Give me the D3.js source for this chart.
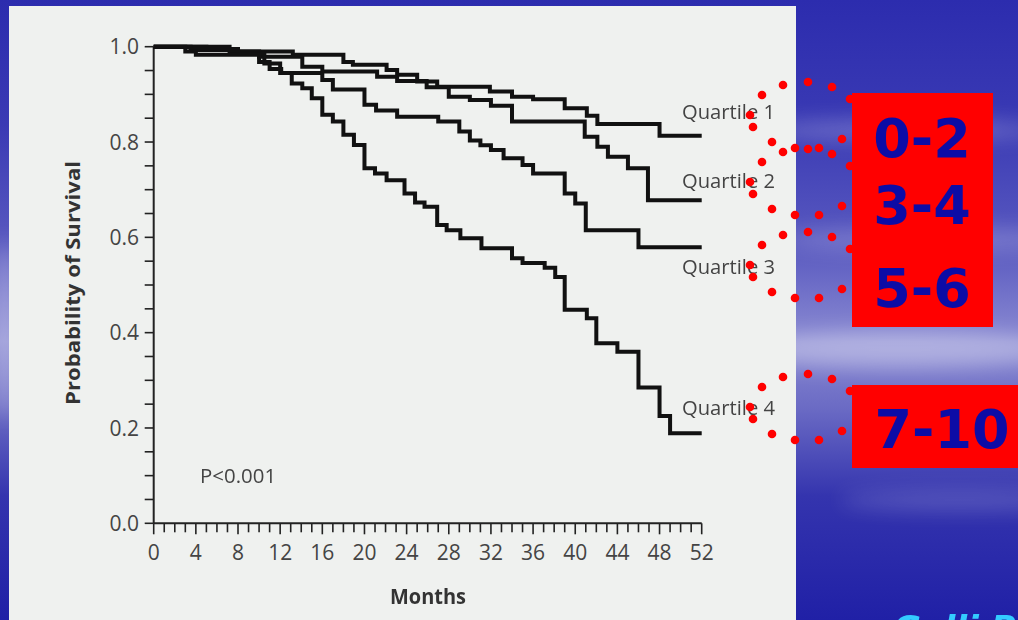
<!DOCTYPE html>
<html>
<head>
<meta charset="utf-8">
<script src="https://cdn.jsdelivr.net/npm/d3@7"></script>
<style>
  body { margin: 0; background: #2a2aa8; overflow: hidden; }
</style>
</head>
<body>
<div id="vis"></div>
<script>
// Kaplan-Meier steps (month, survival)
const monthsQ1 = [0, 7.2, 13.2, 18, 18.9, 22.1, 23.1, 25, 26.9, 31.9, 34, 36, 39, 41.1, 42.1, 48, 52];
const survQ1   = [1, 0.99, 0.983, 0.968, 0.962, 0.951, 0.941, 0.927, 0.916, 0.906, 0.895, 0.89, 0.871, 0.855, 0.838, 0.813, 0.813];

const monthsQ2 = [0, 5, 8, 10, 14.1, 16, 21.2, 23.1, 25.9, 28, 30, 32, 34, 40.9, 42.1, 43.1, 45, 46.9, 52];
const survQ2   = [1, 0.995, 0.99, 0.979, 0.958, 0.948, 0.937, 0.928, 0.915, 0.895, 0.888, 0.876, 0.843, 0.811, 0.79, 0.769, 0.745, 0.678, 0.678];

const monthsQ3 = [0, 3.5, 8, 10.5, 12, 16, 17, 20, 21.1, 23.1, 27, 29, 30, 31, 32, 33.2, 35, 36, 39, 40, 41, 46, 52];
const survQ3   = [1, 0.993, 0.985, 0.965, 0.945, 0.93, 0.91, 0.878, 0.866, 0.853, 0.843, 0.822, 0.803, 0.793, 0.783, 0.766, 0.752, 0.734, 0.692, 0.671, 0.615, 0.579, 0.579];

const monthsQ4 = [0, 3, 4, 10, 11, 12.1, 13.1, 14.1, 15, 16, 17, 18, 19, 20, 21, 22.1, 23.8, 24.8, 25.7, 26.9, 27.8, 29.1, 31.1, 34, 35, 37.1, 38.1, 39, 41.1, 42, 44, 46, 48, 49, 52];
const survQ4   = [1, 0.99, 0.983, 0.968, 0.953, 0.945, 0.923, 0.913, 0.892, 0.857, 0.843, 0.815, 0.794, 0.745, 0.734, 0.72, 0.692, 0.673, 0.664, 0.626, 0.615, 0.598, 0.577, 0.556, 0.546, 0.536, 0.517, 0.448, 0.43, 0.378, 0.36, 0.285, 0.225, 0.189, 0.189];

const quartileNames = ["Quartile 1", "Quartile 2", "Quartile 3", "Quartile 4"];
const quartileLabelY = [0.863, 0.718, 0.538, 0.242];
const scoreGroups = ["0-2", "3-4", "5-6", "7-10"];

const xMajorTicks = d3.range(0, 53, 4);
const xMinorTicks = d3.range(0, 53, 1);
const yMajorTicks = [0, 0.2, 0.4, 0.6, 0.8, 1.0];
const yMinorTicks = d3.range(0, 1.001, 0.05);

const WIDTH = 1018;
const HEIGHT = 620;

const svg = d3.select("#vis")
  .append("svg")
  .attr("width", WIDTH)
  .attr("height", HEIGHT);

////////// slide background //////////
const defs = svg.append("defs");
const bg = defs.append("linearGradient")
  .attr("id", "bgGrad")
  .attr("x1", 0).attr("y1", 0).attr("x2", 0).attr("y2", 1);
[[0, "#2c2cae"], [0.2, "#3a3ab4"], [0.4, "#5a5ac0"], [0.55, "#8a8ad2"], [0.66, "#6a6ac4"], [0.8, "#3434ae"], [1, "#2020a6"]]
  .forEach(s => bg.append("stop").attr("offset", s[0]).attr("stop-color", s[1]));

defs.append("filter").attr("id", "blur")
  .append("feGaussianBlur").attr("stdDeviation", 10);

svg.append("rect")
  .attr("width", WIDTH).attr("height", HEIGHT)
  .attr("fill", "url(#bgGrad)");

// soft light streaks
const streaks = [[900, 130, 140, 10, 0.25], [930, 240, 150, 12, 0.2], [900, 350, 160, 18, 0.35], [960, 500, 120, 10, 0.18], [5, 330, 12, 90, 0.3]];
svg.append("g").attr("filter", "url(#blur)")
  .selectAll("ellipse")
  .data(streaks)
  .join("ellipse")
  .attr("cx", d => d[0]).attr("cy", d => d[1])
  .attr("rx", d => d[2]).attr("ry", d => d[3])
  .attr("fill", "#ffffff")
  .attr("opacity", d => d[4]);

// chart panel
svg.append("rect")
  .attr("x", 9).attr("y", 6)
  .attr("width", 787).attr("height", HEIGHT - 6)
  .attr("fill", "#eff1ef");

////////// chart //////////
const x = d3.scaleLinear().domain([0, 52]).range([153.7, 701.7]);
const y = d3.scaleLinear().domain([0, 1]).range([523.3, 46.7]);

const chart = svg.append("g").attr("id", "chart");

// y axis
chart.append("line")
  .attr("x1", x(0)).attr("x2", x(0))
  .attr("y1", y(1)).attr("y2", y(0))
  .attr("stroke", "#222").attr("stroke-width", 2);

chart.selectAll(".yMinor")
  .data(yMinorTicks)
  .join("line")
  .attr("class", "yMinor")
  .attr("x1", x(0) - 9).attr("x2", x(0))
  .attr("y1", d => y(d)).attr("y2", d => y(d))
  .attr("stroke", "#222").attr("stroke-width", 1.6);

chart.selectAll(".yLabel")
  .data(yMajorTicks)
  .join("text")
  .attr("class", "yLabel")
  .attr("x", 139)
  .attr("y", d => y(d))
  .attr("dy", "0.36em")
  .attr("text-anchor", "end")
  .attr("font-family", "'Open Sans', sans-serif")
  .attr("font-size", 21)
  .attr("fill", "#444")
  .text(d => d.toFixed(1));

// x axis
chart.append("line")
  .attr("x1", x(0)).attr("x2", x(52))
  .attr("y1", y(0)).attr("y2", y(0))
  .attr("stroke", "#222").attr("stroke-width", 2);

chart.selectAll(".xMinor")
  .data(xMinorTicks)
  .join("line")
  .attr("class", "xMinor")
  .attr("x1", d => x(d)).attr("x2", d => x(d))
  .attr("y1", y(0)).attr("y2", d => y(0) + (d % 4 === 0 ? 11 : 9))
  .attr("stroke", "#222").attr("stroke-width", 1.6);

chart.selectAll(".xLabel")
  .data(xMajorTicks)
  .join("text")
  .attr("class", "xLabel")
  .attr("x", d => x(d))
  .attr("y", 560)
  .attr("text-anchor", "middle")
  .attr("font-family", "'Open Sans', sans-serif")
  .attr("font-size", 21)
  .attr("fill", "#444")
  .text(d => d);

// axis titles
chart.append("text")
  .attr("transform", "translate(80,283) rotate(-90)")
  .attr("text-anchor", "middle")
  .attr("font-family", "'Open Sans', sans-serif")
  .attr("font-weight", "bold")
  .attr("font-size", 20)
  .attr("fill", "#333")
  .attr("textLength", 244)
  .attr("lengthAdjust", "spacingAndGlyphs")
  .text("Probability of Survival");

chart.append("text")
  .attr("x", 428).attr("y", 604)
  .attr("text-anchor", "middle")
  .attr("font-family", "'Open Sans', sans-serif")
  .attr("font-weight", "bold")
  .attr("font-size", 21)
  .attr("fill", "#333")
  .attr("textLength", 76)
  .attr("lengthAdjust", "spacingAndGlyphs")
  .text("Months");

// survival curves
const series = [
  d3.zip(monthsQ1, survQ1),
  d3.zip(monthsQ2, survQ2),
  d3.zip(monthsQ3, survQ3),
  d3.zip(monthsQ4, survQ4)
];

const stepLine = d3.line()
  .x(d => x(d[0]))
  .y(d => y(d[1]))
  .curve(d3.curveStepAfter);

chart.selectAll(".km")
  .data(series)
  .join("path")
  .attr("class", "km")
  .attr("d", stepLine)
  .attr("fill", "none")
  .attr("stroke", "#111")
  .attr("stroke-width", 4)
  .attr("stroke-linejoin", "miter");

// quartile labels
chart.selectAll(".qLabel")
  .data(quartileNames)
  .join("text")
  .attr("class", "qLabel")
  .attr("x", 682)
  .attr("y", (d, i) => y(quartileLabelY[i]))
  .attr("dy", "0.36em")
  .attr("font-family", "'Open Sans', sans-serif")
  .attr("font-size", 20)
  .attr("fill", "#444")
  .attr("textLength", 93)
  .attr("lengthAdjust", "spacingAndGlyphs")
  .text(d => d);

chart.append("text")
  .attr("x", x(4.4)).attr("y", y(0.099))
  .attr("dy", "0.36em")
  .attr("font-family", "'Open Sans', sans-serif")
  .attr("font-size", 20)
  .attr("fill", "#444")
  .attr("textLength", 76)
  .attr("lengthAdjust", "spacingAndGlyphs")
  .text("P<0.001");

////////// red score boxes //////////
svg.append("rect")
  .attr("x", 852).attr("y", 93)
  .attr("width", 141).attr("height", 234)
  .attr("fill", "#ff0000");
svg.append("rect")
  .attr("x", 852).attr("y", 385)
  .attr("width", 170).attr("height", 83)
  .attr("fill", "#ff0000");

const groupPos = [[922, 137], [922, 204], [922, 287], [942, 428]];
svg.selectAll(".score")
  .data(scoreGroups)
  .join("text")
  .attr("class", "score")
  .attr("x", (d, i) => groupPos[i][0])
  .attr("y", (d, i) => groupPos[i][1] + 20)
  .attr("text-anchor", "middle")
  .attr("font-family", "'DejaVu Sans', sans-serif")
  .attr("font-weight", "bold")
  .attr("font-size", 54)
  .attr("fill", "#0c0ca6")
  .text(d => d);

// dotted red brackets round each quartile label
const bracket = [[850, 99], [832, 87], [808, 82], [783, 85], [762, 95], [750, 115], [753, 127], [772, 142], [795, 148], [819, 148], [842, 139]];
const bracketShift = [0, 67, 150, 292];
const dots = [];
bracketShift.forEach(s => bracket.forEach(p => dots.push([p[0], p[1] + s])));

svg.append("g")
  .selectAll("circle")
  .data(dots)
  .join("circle")
  .attr("cx", d => d[0])
  .attr("cy", d => d[1])
  .attr("r", 4.3)
  .attr("fill", "#ff0000");

// source text, cut off at the bottom edge as on the slide
svg.append("text")
  .attr("x", 893).attr("y", 640)
  .attr("font-family", "'DejaVu Sans', sans-serif")
  .attr("font-weight", "bold")
  .attr("font-style", "italic")
  .attr("font-size", 34)
  .attr("fill", "#33ccff")
  .text("Galli P");
</script>
</body>
</html>
